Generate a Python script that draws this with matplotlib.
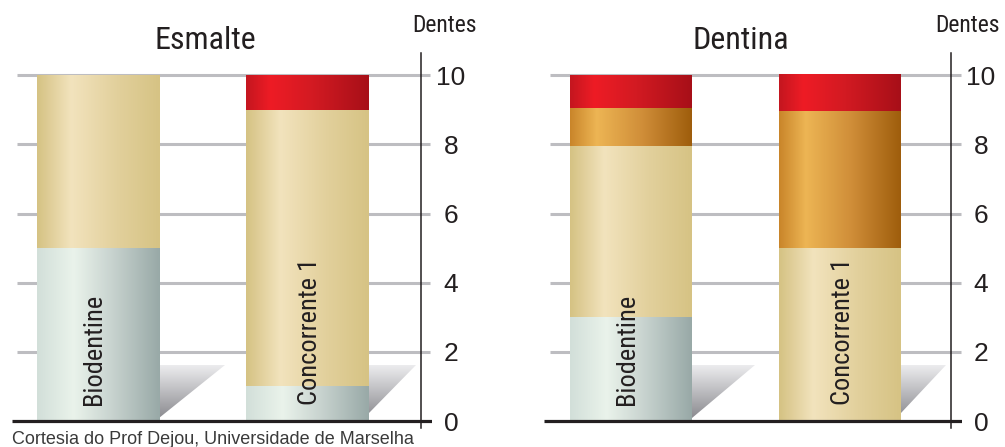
import numpy as np
import matplotlib
matplotlib.use("Agg")
import matplotlib.pyplot as plt
from matplotlib import font_manager as fm
from matplotlib.colors import LinearSegmentedColormap, to_rgb
from matplotlib.patches import Polygon

# ---------------- data ----------------
panels = ["Esmalte", "Dentina"]
categories = ["Biodentine", "Concorrente 1"]
y_ticks = [0, 2, 4, 6, 8, 10]
y_label = "Dentes"
footer = "Cortesia do Prof Dejou, Universidade de Marselha"

# stacked segments (bottom -> top): grey, beige, orange, red
esmalte_grey = [5, 1]
esmalte_beige = [5, 8]
esmalte_orange = [0, 0]
esmalte_red = [0, 1]

dentina_grey = [3, 0]
dentina_beige = [4.95, 5]
dentina_orange = [1.1, 3.95]
dentina_red = [0.95, 1.05]

# ---------------- fonts ----------------
names = {f.name for f in fm.fontManager.ttflist}
if "Liberation Sans Narrow" in names:
    COND = dict(family="Liberation Sans Narrow")
elif "Roboto Condensed" in names:
    COND = dict(family="Roboto Condensed")
else:
    COND = dict(family="DejaVu Sans", stretch="condensed")
REG = dict(family="Liberation Sans")
INK = "#231f20"

# ---------------- gradients ----------------
def cmap(stops):
    return LinearSegmentedColormap.from_list("g", [(p, to_rgb(c)) for p, c in stops])

grads = {
    "grey": cmap([(0, "#d2dfd9"), (0.3, "#eaf3eb"), (0.6, "#c9d4d0"), (1, "#98a9a7")]),
    "beige": cmap([(0, "#d5c283"), (0.28, "#f2e3bd"), (0.65, "#e2d09c"), (1, "#d6c384")]),
    "orange": cmap([(0, "#c9852a"), (0.22, "#edb554"), (0.6, "#cf8d38"), (1, "#9e5d0c")]),
    "red": cmap([(0, "#c4161f"), (0.2, "#ee1c25"), (0.55, "#d21a22"), (1, "#a70f18")]),
}
shadow_cmap = cmap([(0, "#eeeef0"), (1, "#86868b")])
H = np.linspace(0, 1, 256)[None, :]
V = np.linspace(0, 1, 128)[:, None]

fig = plt.figure(figsize=(10.05, 4.47), dpi=100)
fig.patch.set_facecolor("white")

# axes placement (figure pixels)
axes_px = [(12, 420), (544, 418)]
bot_px, h_px = 19, 375
ylim = (-0.2, 10.64)
xlims = [(-0.4105, 1.594), (-0.4163, 1.5837)]
axis_x = [1.542, 1.531]
grid_x = [(-0.387, 1.585), (-0.388, 1.579)]
shadow_w = [[0.315, 0.224], [0.30, 0.215]]
shadow_bot = [[0.09, 0.23], [0.09, 0.23]]
title_x = [0.4595, 0.471]
dentes_x = [1.0298, 1.013]
label_dx = [-0.017, 0.012]
bar_w = 0.583

data = [
    [("grey", esmalte_grey), ("beige", esmalte_beige), ("orange", esmalte_orange), ("red", esmalte_red)],
    [("grey", dentina_grey), ("beige", dentina_beige), ("orange", dentina_orange), ("red", dentina_red)],
]

for p, panel in enumerate(panels):
    l, w = axes_px[p]
    ax = fig.add_axes([l / 1005, bot_px / 447, w / 1005, h_px / 447])
    ax.set_facecolor("none")
    xs = np.arange(len(categories))

    # gridlines
    ax.hlines(y_ticks[1:], grid_x[p][0], grid_x[p][1], color="#bdbdc1", lw=2.2, zorder=1)

    # shadows
    for i, x in enumerate(xs):
        xr = x + bar_w / 2
        sw = shadow_w[p][i]
        top = 1.62
        poly = Polygon([(xr, shadow_bot[p][i]), (xr, top), (xr + sw, top)], closed=True,
                       facecolor="none", edgecolor="none")
        ax.add_patch(poly)
        im = ax.imshow(V, extent=[xr, xr + sw, 0, top], origin="upper", cmap=shadow_cmap,
                       aspect="auto", zorder=1.5, interpolation="bilinear")
        im.set_clip_path(poly)

    # stacked gradient bars
    bottoms = np.zeros(len(categories))
    for key, vals in data[p]:
        for i, x in enumerate(xs):
            v = vals[i]
            if v <= 0:
                continue
            ax.imshow(H, extent=[x - bar_w / 2, x + bar_w / 2, bottoms[i], bottoms[i] + v],
                      cmap=grads[key], aspect="auto", zorder=2, interpolation="bilinear")
        bottoms = bottoms + np.array(vals)

    # baseline
    ax.hlines(0, xlims[p][0], xlims[p][1], color=INK, lw=2.3, zorder=4)

    # bar labels
    for i, x in enumerate(xs):
        ax.text(x + label_dx[i], 0.46, categories[i], rotation=90, ha="center", va="bottom",
                fontsize=19, color=INK, zorder=5, **COND)

    ax.set_xlim(*xlims[p])
    ax.set_ylim(*ylim)

    for s in ["left", "top", "bottom"]:
        ax.spines[s].set_visible(False)
    ax.spines["right"].set_position(("data", axis_x[p]))
    ax.spines["right"].set_color(INK)
    ax.spines["right"].set_linewidth(1.1)
    ax.set_xticks([])
    ax.yaxis.tick_right()
    ax.set_yticks(y_ticks)
    ax.set_yticklabels([str(t) for t in y_ticks])
    ax.tick_params(axis="y", length=0, pad=21.6, labelsize=19, labelcolor=INK)
    for lab in ax.get_yticklabels():
        lab.set_horizontalalignment("center")
        lab.set_fontfamily(REG["family"])

    ax.text(title_x[p], 1.0107, panel, transform=ax.transAxes, ha="center", va="baseline",
            fontsize=23, color=INK, **COND)
    ax.text(dentes_x[p], 1.056, y_label, transform=ax.transAxes, ha="center", va="baseline",
            fontsize=17, color=INK, **COND)

fig.text(12 / 1005, 3 / 447, footer, ha="left", va="baseline", fontsize=13,
         color="#3a3a3a", **REG)

fig.savefig("out.png", dpi=100, facecolor="white")
